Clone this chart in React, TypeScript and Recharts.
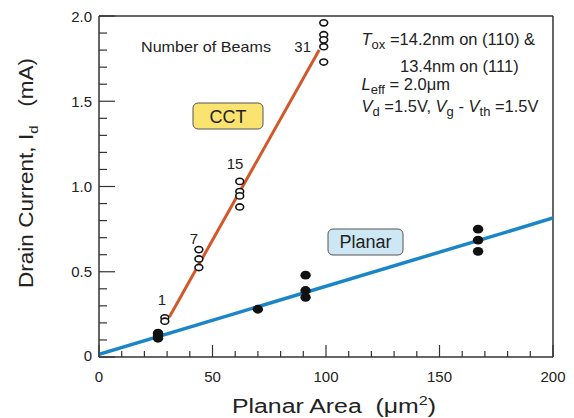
import React from 'react';
import { ComposedChart, XAxis, YAxis, Scatter, ReferenceLine } from 'recharts';

// Planar area (um^2) and measured drain current (mA)
const cctArea = [29, 44, 62, 99];
const cctCurrent = [
  [0.23, 0.21],
  [0.63, 0.575, 0.525],
  [1.03, 0.97, 0.945, 0.88],
  [1.96, 1.89, 1.86, 1.82, 1.73],
];
const planarArea = [26, 70, 91, 167];
const planarCurrent = [
  [0.14, 0.125, 0.11],
  [0.28],
  [0.48, 0.39, 0.35],
  [0.75, 0.685, 0.62],
];
// fitted lines (end points)
const cctFit = [{ x: 31, y: 0.235 }, { x: 97, y: 1.8 }];
const planarFit = [{ x: 0, y: 0.015 }, { x: 200, y: 0.815 }];

const xTicks = [0, 10, 20, 30, 40, 50, 60, 70, 80, 90, 100, 110, 120, 130, 140, 150, 160, 170, 180, 190, 200];
const yTicks = [0, 0.1, 0.2, 0.3, 0.4, 0.5, 0.6, 0.7, 0.8, 0.9, 1.0, 1.1, 1.2, 1.3, 1.4, 1.5, 1.6, 1.7, 1.8, 1.9, 2.0];

const toPoints = (xs: number[], ys: number[][]) =>
  xs.flatMap((x, i) => ys[i].map((y) => ({ x, y })));

const cctData = toPoints(cctArea, cctCurrent);
const planarData = toPoints(planarArea, planarCurrent);

const FONT = '"Liberation Sans", Arial, sans-serif';
const AXIS = '#333';

const YTick = ({ x, y, payload }: any) => {
  const v = payload.value;
  const major = Math.abs(v * 2 - Math.round(v * 2)) < 1e-6;
  return (
    <g>
      <line x1={x} x2={x + (major ? 16 : 8)} y1={y} y2={y} stroke={AXIS} strokeWidth={1.2} />
      {major && (
        <text x={x - 7} y={v === 0 ? y - 2 : y} textAnchor="end" dominantBaseline="central" fontSize={15} fill="#222" fontFamily={FONT}>
          {v === 0 ? '0' : v.toFixed(1)}
        </text>
      )}
    </g>
  );
};

const XTick = ({ x, y, payload }: any) => {
  const v = payload.value;
  const major = v % 50 === 0;
  return (
    <g>
      <line x1={x} x2={x} y1={y} y2={y - (major ? 12 : 6)} stroke={AXIS} strokeWidth={1.2} />
      {major && (
        <text x={x} y={y + 25} textAnchor="middle" fontSize={15} fill="#222" fontFamily={FONT}>
          {v}
        </text>
      )}
    </g>
  );
};

const OpenDot = (p: any) => (
  <ellipse cx={p.cx} cy={p.cy} rx={3.9} ry={3.1} fill="#fff" stroke="#111" strokeWidth={1.6} />
);
const FilledDot = (p: any) => <ellipse cx={p.cx} cy={p.cy} rx={5.2} ry={4.4} fill="#111" />;

export default function App() {
  return (
    <div style={{ position: 'relative', width: 566, height: 410, fontFamily: FONT }}>
      <ComposedChart width={566} height={410} margin={{ top: 8, right: 21, bottom: 21, left: 0 }}>
        <XAxis
          type="number"
          dataKey="x"
          domain={[0, 200]}
          ticks={xTicks}
          interval={0}
          tick={<XTick />}
          tickLine={false}
          tickSize={0}
          tickMargin={0}
          height={40}
          stroke={AXIS}
          strokeWidth={1.5}
          allowDataOverflow
        />
        <YAxis
          type="number"
          dataKey="y"
          domain={[0, 2]}
          ticks={yTicks}
          interval={0}
          tick={<YTick />}
          tickLine={false}
          tickSize={0}
          tickMargin={0}
          width={91}
          stroke={AXIS}
          strokeWidth={1.5}
          allowDataOverflow
        />
        <ReferenceLine y={2} stroke={AXIS} strokeWidth={1.5} />
        <ReferenceLine x={200} stroke={AXIS} strokeWidth={1.5} />
        <Scatter data={planarFit} line={{ stroke: '#1a86c8', strokeWidth: 3.5 }} shape={() => null} isAnimationActive={false} />
        <Scatter data={cctFit} line={{ stroke: '#d2582a', strokeWidth: 3 }} shape={() => null} isAnimationActive={false} />
        <Scatter data={planarData} shape={<FilledDot />} isAnimationActive={false} />
        <Scatter data={cctData} shape={<OpenDot />} isAnimationActive={false} />
      </ComposedChart>
      <svg
        width={566}
        height={410}
        style={{ position: 'absolute', left: 0, top: 0, overflow: 'visible', pointerEvents: 'none' }}
        fontFamily={FONT}
        fill="#222"
      >
        <text x={133} y={44} fontSize={15} textLength={130} lengthAdjust="spacingAndGlyphs">Number of Beams</text>
        <text x={303} y={44} fontSize={15} textAnchor="end">31</text>
        <text x={227} y={161} fontSize={15} textAnchor="middle">15</text>
        <text x={186} y={236} fontSize={15} textAnchor="middle">7</text>
        <text x={154} y={297} fontSize={15} textAnchor="middle">1</text>

        <rect x={185} y={95} width={70} height={26} rx={5} fill="#fbe36f" stroke="#555" strokeWidth={1} />
        <text x={220} y={114.5} fontSize={18} textAnchor="middle">CCT</text>
        <rect x={320} y={221} width={75} height={26} rx={5} fill="#cde8f4" stroke="#555" strokeWidth={1} />
        <text x={357.5} y={240} fontSize={18} textAnchor="middle">Planar</text>

        <text x={353.5} y={37} fontSize={16.5}>
          <tspan fontStyle="italic">T</tspan>
          <tspan fontSize={13} dy={4}>ox</tspan>
          <tspan dy={-4}> =14.2nm on (110) &amp;</tspan>
        </text>
        <text x={392} y={63.5} fontSize={16.5}>13.4nm on (111)</text>
        <text x={353.5} y={82} fontSize={16.5}>
          <tspan fontStyle="italic">L</tspan>
          <tspan fontSize={13} dy={4}>eff</tspan>
          <tspan dy={-4}> = 2.0μm</tspan>
        </text>
        <text x={353.5} y={103.5} fontSize={16.5}>
          <tspan fontStyle="italic">V</tspan>
          <tspan fontSize={13} dy={4}>d</tspan>
          <tspan dy={-4}> =1.5V, </tspan>
          <tspan fontStyle="italic">V</tspan>
          <tspan fontSize={13} dy={4}>g</tspan>
          <tspan dy={-4}> - </tspan>
          <tspan fontStyle="italic">V</tspan>
          <tspan fontSize={13} dy={4}>th</tspan>
          <tspan dy={-4}> =1.5V</tspan>
        </text>

        <text x={326} y={405} fontSize={20} textAnchor="middle" textLength={204} lengthAdjust="spacingAndGlyphs">
          {'Planar Area \u00a0(μm'}<tspan fontSize={13} dy={-8}>2</tspan><tspan dy={8}>)</tspan>
        </text>
        <text
          x={25}
          y={165}
          fontSize={20}
          textAnchor="middle"
          textLength={230}
          lengthAdjust="spacingAndGlyphs"
          transform="rotate(-90 25 165)"
        >
          Drain Current, I<tspan fontSize={13} dy={5}>d</tspan><tspan dy={-5}>{'\u00a0\u00a0 (mA)'}</tspan>
        </text>
      </svg>
    </div>
  );
}
